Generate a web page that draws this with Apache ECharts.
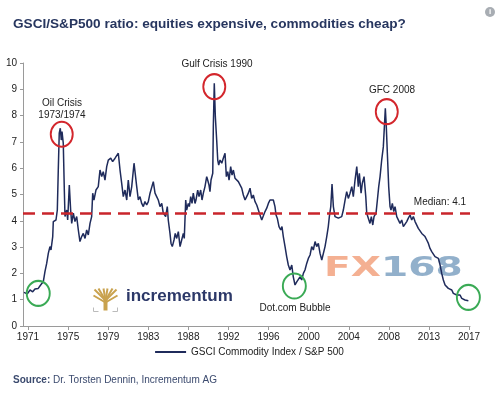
<!DOCTYPE html>
<html>
<head>
    <meta charset="utf-8">
    <title>GSCI / S&P500</title>
    <script src="https://cdn.jsdelivr.net/npm/echarts@6/dist/echarts.min.js"></script>
    <style>
        html, body { margin: 0; padding: 0; background: #fff; }
    </style>
</head>
<body>
<div id="main" style="width: 499px;height:396px;"></div>

<script type="text/javascript">
    // ratio GSCI / S&P500 (decimal year, value)
    var years = [
        1970.58, 1970.93, 1971.21, 1971.49, 1971.73, 1972.07, 1972.32, 1972.60, 1972.77, 1972.95,
        1973.12, 1973.29, 1973.40, 1973.58, 1973.64, 1973.82, 1973.92, 1974.06, 1974.16, 1974.26,
        1974.37, 1974.47, 1974.55, 1974.68, 1974.79, 1974.86, 1975.04, 1975.14, 1975.31, 1975.45,
        1975.56, 1975.73, 1975.90, 1976.08, 1976.25, 1976.42, 1976.60, 1976.77, 1976.95, 1977.12,
        1977.29, 1977.47, 1977.64, 1977.75, 1977.88, 1978.09, 1978.33, 1978.51, 1978.69, 1978.85,
        1979.03, 1979.21, 1979.38, 1979.63, 1979.83, 1980.08, 1980.25, 1980.42, 1980.60, 1980.77,
        1980.94, 1981.12, 1981.30, 1981.46, 1981.64, 1981.82, 1982.06, 1982.34, 1982.51, 1982.68,
        1982.86, 1983.03, 1983.20, 1983.38, 1983.55, 1983.73, 1983.90, 1984.07, 1984.25, 1984.42,
        1984.59, 1984.77, 1984.95, 1985.11, 1985.22, 1985.36, 1985.53, 1985.63, 1985.81, 1985.92,
        1986.05, 1986.23, 1986.36, 1986.51, 1986.68, 1986.86, 1987.03, 1987.20, 1987.30, 1987.45,
        1987.55, 1987.72, 1987.83, 1987.97, 1988.11, 1988.24, 1988.42, 1988.52, 1988.70, 1988.84,
        1989.01, 1989.15, 1989.29, 1989.46, 1989.64, 1989.74, 1989.88, 1989.98, 1990.09, 1990.27,
        1990.33, 1990.43, 1990.54, 1990.68, 1990.79, 1990.89, 1991.03, 1991.21, 1991.37, 1991.55,
        1991.69, 1991.83, 1991.97, 1992.14, 1992.28, 1992.42, 1992.59, 1992.77, 1992.94, 1993.11,
        1993.29, 1993.46, 1993.64, 1993.81, 1993.98, 1994.16, 1994.33, 1994.50, 1994.68, 1994.86,
        1995.02, 1995.20, 1995.38, 1995.54, 1995.72, 1995.90, 1996.07, 1996.24, 1996.42, 1996.59,
        1996.76, 1996.87, 1997.00, 1997.18, 1997.36, 1997.49, 1997.63, 1997.81, 1997.98, 1998.15,
        1998.33, 1998.51, 1998.67, 1998.85, 1999.03, 1999.19, 1999.37, 1999.55, 1999.72, 1999.89,
        2000.07, 2000.24, 2000.42, 2000.59, 2000.76, 2000.94, 2001.11, 2001.28, 2001.46, 2001.64,
        2001.80, 2001.98, 2002.16, 2002.32, 2002.43, 2002.58, 2002.71, 2002.85, 2003.02, 2003.20,
        2003.37, 2003.54, 2003.72, 2003.89, 2004.07, 2004.24, 2004.41, 2004.59, 2004.77, 2004.93,
        2005.11, 2005.29, 2005.45, 2005.56, 2005.74, 2005.87, 2006.05, 2006.23, 2006.33, 2006.50,
        2006.67, 2006.81, 2006.96, 2007.09, 2007.30, 2007.44, 2007.58, 2007.72, 2007.89, 2008.06,
        2008.17, 2008.27, 2008.37, 2008.48, 2008.62, 2008.76, 2008.86, 2009.00, 2009.15, 2009.28,
        2009.46, 2009.63, 2009.80, 2009.98, 2010.15, 2010.32, 2010.50, 2010.67, 2010.85, 2011.02,
        2011.19, 2011.37, 2011.55, 2011.71, 2011.89, 2012.07, 2012.23, 2012.41, 2012.59, 2012.76,
        2012.93, 2013.11, 2013.28, 2013.45, 2013.63, 2013.80, 2013.98, 2014.15, 2014.32, 2014.50,
        2014.67, 2014.84, 2015.02, 2015.20, 2015.36, 2015.54, 2015.72, 2015.89, 2016.06, 2016.24,
        2016.41, 2016.58, 2016.76, 2016.93
    ];
    var ratio = [
        1.28, 1.22, 1.37, 1.30, 1.41, 1.43, 1.56, 1.69, 2.07, 2.38,
        2.76, 3.02, 2.89, 3.40, 3.97, 3.92, 4.03, 4.41, 5.93, 7.33,
        7.52, 7.07, 7.39, 6.95, 5.17, 4.16, 4.41, 4.03, 5.36, 4.41,
        3.90, 4.29, 3.97, 4.16, 3.65, 3.21, 3.40, 3.52, 3.33, 3.65,
        3.46, 3.90, 4.16, 5.05, 4.79, 5.17, 5.30, 5.93, 5.68, 5.87,
        5.55, 6.06, 6.31, 6.38, 6.25, 6.38, 6.31, 6.57, 5.93, 5.43,
        4.92, 5.17, 4.79, 5.55, 4.92, 5.30, 6.19, 5.30, 4.79, 4.92,
        4.66, 4.54, 4.73, 4.60, 4.73, 5.05, 5.11, 5.49, 5.05, 4.92,
        4.79, 4.54, 4.66, 4.29, 4.35, 4.16, 4.54, 4.03, 3.52, 3.14,
        3.02, 3.27, 3.52, 3.33, 3.59, 3.02, 3.27, 3.52, 3.33, 4.79,
        4.41, 4.66, 4.54, 4.92, 4.66, 5.05, 4.66, 4.79, 5.17, 4.92,
        5.17, 4.79, 5.05, 5.30, 5.68, 5.55, 5.36, 5.11, 5.55, 5.81,
        7.58, 9.23, 7.96, 7.07, 6.31, 6.12, 6.31, 6.19, 6.38, 6.57,
        5.68, 5.87, 5.55, 6.06, 5.74, 5.93, 5.62, 5.68, 5.49, 5.55,
        5.24, 4.98, 4.79, 4.92, 5.05, 5.24, 4.85, 4.98, 4.73, 4.60,
        4.54, 4.22, 4.03, 4.10, 4.35, 4.48, 4.66, 4.79, 4.73, 4.79,
        4.54, 4.22, 4.10, 3.78, 3.65, 3.78, 3.40, 3.02, 2.64, 2.32,
        2.13, 2.32, 1.87, 1.56, 1.68, 1.62, 1.87, 1.75, 2.00, 2.13,
        2.38, 2.57, 2.70, 3.02, 2.89, 3.21, 3.02, 3.14, 2.76, 2.51,
        2.57, 3.02, 3.40, 3.78, 4.16, 4.54, 5.40, 4.54, 4.16, 4.22,
        4.10, 4.03, 4.16, 4.41, 4.79, 5.11, 4.85, 5.05, 5.30, 4.92,
        5.55, 6.06, 5.30, 5.81, 5.05, 5.43, 5.68, 4.92, 4.29, 4.35,
        3.90, 4.16, 3.84, 4.16, 4.29, 4.79, 5.30, 5.68, 6.31, 6.81,
        7.58, 8.28, 7.58, 6.57, 5.30, 4.54, 4.41, 4.66, 4.35, 4.54,
        4.16, 4.22, 3.90, 4.03, 3.78, 3.84, 3.97, 4.10, 4.22, 4.03,
        4.16, 3.97, 3.90, 3.71, 3.65, 3.52, 3.59, 3.40, 3.27, 3.14,
        2.95, 2.83, 2.76, 2.64, 2.70, 2.57, 2.32, 2.00, 1.75, 1.56,
        1.49, 1.43, 1.49, 1.37, 1.24, 1.30, 1.18, 1.11, 1.18, 1.05,
        1.09, 0.99, 1.05, 0.96
    ];
    // x axis labels (evenly spaced in the original, like a date axis)
    var xLabels = ['1971', '1975', '1979', '1983', '1988', '1992', '1996', '2000', '2004', '2008', '2013', '2017'];
    var median = 4.27;
    // highlighted spots: [year, value]
    var redSpots = [[1974.52, 7.29], [1990.43, 9.10], [2008.42, 8.15]];
    var greenSpots = [[1972.07, 1.24], [1998.78, 1.52], [2016.93, 1.09]];

    var seriesData = years.map(function (y, i) { return [y, ratio[i]]; });
    var tickPos = xLabels.map(function (l, i) { return 1971 + i * 46 / 11; });

    var chart = echarts.init(document.getElementById('main'));

    var spotPoints = [];
    redSpots.forEach(function (p) {
        spotPoints.push({coord: p, symbolSize: [22, 25],
            itemStyle: {color: 'rgba(0,0,0,0)', borderColor: '#d3262c', borderWidth: 2}});
    });
    greenSpots.forEach(function (p) {
        spotPoints.push({coord: p, symbolSize: [23, 25],
            itemStyle: {color: 'rgba(0,0,0,0)', borderColor: '#3aaa55', borderWidth: 2}});
    });

    var option = {
        animation: false,
        title: {
            text: 'GSCI/S&P500 ratio: equities expensive, commodities cheap?',
            left: 8,
            top: 12,
            textStyle: {fontSize: 13.6, fontWeight: 'bold', color: '#27365f', fontFamily: 'Liberation Sans'}
        },
        legend: {
            bottom: 34,
            left: 'center',
            icon: 'rect',
            itemWidth: 31,
            itemHeight: 2,
            itemGap: 4,
            textStyle: {fontSize: 10, color: '#222', fontFamily: 'Liberation Sans'},
            data: ['GSCI Commodity Index / S&P 500']
        },
        grid: {left: 23, right: 29, top: 63, bottom: 70},
        xAxis: {
            type: 'value',
            min: 1970.48,
            max: 2017.1,
            splitLine: {show: false},
            axisLine: {lineStyle: {color: '#9a9a9a'}},
            axisTick: {show: true, length: 4, customValues: tickPos, lineStyle: {color: '#9a9a9a'}},
            axisLabel: {
                customValues: tickPos,
                fontSize: 10,
                color: '#222',
                fontFamily: 'Liberation Sans',
                margin: 6,
                formatter: function (v) {
                    return xLabels[Math.round((v - 1971) * 11 / 46)];
                }
            }
        },
        yAxis: {
            type: 'value',
            min: 0,
            max: 10,
            interval: 1,
            splitLine: {show: false},
            axisLine: {show: true, lineStyle: {color: '#9a9a9a'}},
            axisTick: {show: true, length: 3, lineStyle: {color: '#9a9a9a'}},
            axisLabel: {fontSize: 10, color: '#222', fontFamily: 'Liberation Sans', margin: 6}
        },
        graphic: [
            // FX168 watermark
            {
                type: 'text', left: 324, top: 255, z: 0, scaleX: 1.45,
                style: {
                    text: '{a|FX}{b|168}',
                    rich: {
                        a: {fontSize: 27, fontWeight: 'bold', fontFamily: 'DejaVu Sans', fill: 'rgba(240,150,110,0.75)'},
                        b: {fontSize: 27, fontWeight: 'bold', fontFamily: 'DejaVu Sans', fill: 'rgba(110,150,185,0.75)'}
                    }
                }
            },
            // incrementum logo
            {
                type: 'group', left: 91, top: 286, z: 1,
                children: [
                    {type: 'rect', shape: {x: 10, y: 10, width: 4, height: 12}, style: {fill: '#c9a24e'}},
                    {type: 'line', shape: {x1: 12, y1: 12, x2: 1, y2: 1}, style: {stroke: '#c9a24e', lineWidth: 2}},
                    {type: 'line', shape: {x1: 12, y1: 12, x2: 5, y2: 0}, style: {stroke: '#c9a24e', lineWidth: 2}},
                    {type: 'line', shape: {x1: 12, y1: 12, x2: 10, y2: 0}, style: {stroke: '#c9a24e', lineWidth: 2}},
                    {type: 'line', shape: {x1: 12, y1: 12, x2: 14, y2: 0}, style: {stroke: '#c9a24e', lineWidth: 2}},
                    {type: 'line', shape: {x1: 12, y1: 12, x2: 19, y2: 0}, style: {stroke: '#c9a24e', lineWidth: 2}},
                    {type: 'line', shape: {x1: 12, y1: 12, x2: 23, y2: 1}, style: {stroke: '#c9a24e', lineWidth: 2}},
                    {type: 'line', shape: {x1: 12, y1: 14, x2: 0, y2: 7}, style: {stroke: '#c9a24e', lineWidth: 2}},
                    {type: 'line', shape: {x1: 12, y1: 14, x2: 24, y2: 7}, style: {stroke: '#c9a24e', lineWidth: 2}},
                    {type: 'polyline', shape: {points: [[0, 19], [0, 23], [5, 23]]}, style: {stroke: '#bbb', lineWidth: 1, fill: null}},
                    {type: 'polyline', shape: {points: [[19, 23], [24, 23], [24, 19]]}, style: {stroke: '#bbb', lineWidth: 1, fill: null}}
                ]
            },
            {
                type: 'text', left: 126, top: 288, z: 1,
                style: {text: 'incrementum', fontSize: 17, fontWeight: 'bold', fontFamily: 'Liberation Sans', fill: '#2c3868'}
            },
            // annotations
            {type: 'text', x: 62, y: 103, style: {text: 'Oil Crisis', fontSize: 10, fontFamily: 'Liberation Sans', fill: '#222', align: 'center', verticalAlign: 'middle'}},
            {type: 'text', x: 62, y: 115, style: {text: '1973/1974', fontSize: 10, fontFamily: 'Liberation Sans', fill: '#222', align: 'center', verticalAlign: 'middle'}},
            {type: 'text', x: 217, y: 64, style: {text: 'Gulf Crisis 1990', fontSize: 10, fontFamily: 'Liberation Sans', fill: '#222', align: 'center', verticalAlign: 'middle'}},
            {type: 'text', x: 392, y: 90, style: {text: 'GFC 2008', fontSize: 10, fontFamily: 'Liberation Sans', fill: '#222', align: 'center', verticalAlign: 'middle'}},
            {type: 'text', x: 295, y: 308, style: {text: 'Dot.com Bubble', fontSize: 10, fontFamily: 'Liberation Sans', fill: '#222', align: 'center', verticalAlign: 'middle'}},
            {type: 'text', x: 440, y: 202, style: {text: 'Median: 4.1', fontSize: 10, fontFamily: 'Liberation Sans', fill: '#222', align: 'center', verticalAlign: 'middle'}},
            // source line
            {
                type: 'text', left: 13, top: 375,
                style: {
                    text: '{b|Source:} Dr. Torsten Dennin, Incrementum AG',
                    fontSize: 10, fontFamily: 'Liberation Sans', fill: '#3b4a6e',
                    rich: {b: {fontSize: 10, fontWeight: 'bold', fontFamily: 'Liberation Sans', fill: '#3b4a6e'}}
                }
            },
            // info icon
            {type: 'circle', shape: {cx: 490, cy: 12, r: 5}, style: {fill: '#a8adb3'}},
            {type: 'text', x: 490, y: 12, style: {text: 'i', fontSize: 8, fontWeight: 'bold', fontFamily: 'Liberation Sans', fill: '#fff', align: 'center', verticalAlign: 'middle'}}
        ],
        series: [
            {
                name: 'GSCI Commodity Index / S&P 500',
                type: 'line',
                data: seriesData,
                showSymbol: false,
                z: 3,
                lineStyle: {color: '#1f2b5b', width: 1.5},
                itemStyle: {color: '#1f2b5b'},
                markLine: {
                    silent: true,
                    symbol: 'none',
                    label: {show: false},
                    lineStyle: {color: '#c9252b', width: 2.5, type: [12, 7]},
                    data: [{yAxis: median}]
                },
                markPoint: {
                    silent: true,
                    symbol: 'circle',
                    label: {show: false},
                    data: spotPoints
                }
            }
        ]
    };

    chart.setOption(option);
</script>
</body>
</html>
